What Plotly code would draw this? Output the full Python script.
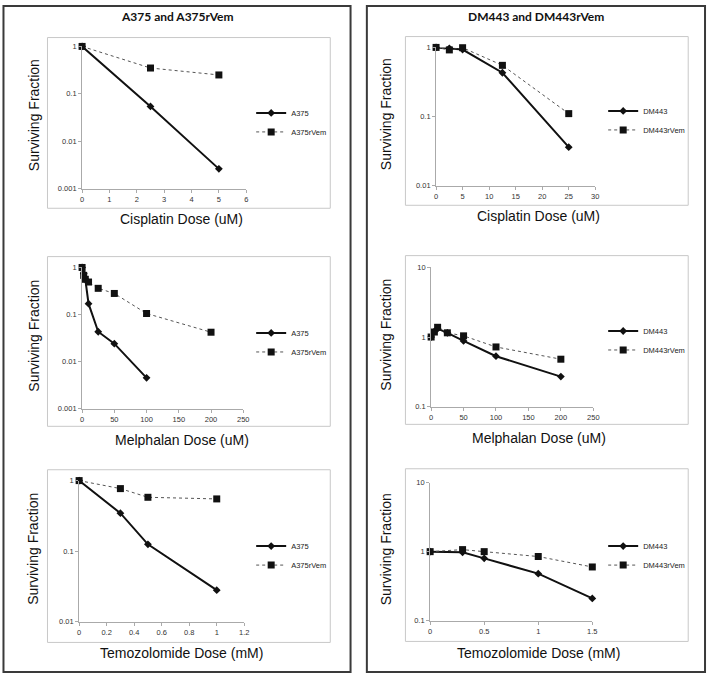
import plotly.graph_objects as go

W, H = 713, 679

# ---- data ----
cis_a375_x = [0, 2.5, 5]
cis_a375_y = [1.0, 0.054, 0.0026]
cis_a375r_x = [0, 2.5, 5]
cis_a375r_y = [1.0, 0.35, 0.25]

mel_a375_x = [0, 2.5, 5, 10, 25, 50, 100]
mel_a375_y = [1.0, 0.74, 0.56, 0.17, 0.043, 0.024, 0.0045]
mel_a375r_x = [0, 2.5, 5, 10, 25, 50, 100, 200]
mel_a375r_y = [1.0, 0.68, 0.56, 0.49, 0.36, 0.28, 0.105, 0.042]

tmz_a375_x = [0, 0.3, 0.5, 1]
tmz_a375_y = [1.0, 0.345, 0.125, 0.028]
tmz_a375r_x = [0, 0.3, 0.5, 1]
tmz_a375r_y = [1.0, 0.77, 0.58, 0.55]

cis_dm_x = [0, 2.5, 5, 12.5, 25]
cis_dm_y = [1.0, 0.97, 0.93, 0.43, 0.036]
cis_dmr_x = [0, 2.5, 5, 12.5, 25]
cis_dmr_y = [1.0, 0.92, 0.99, 0.55, 0.11]

mel_dm_x = [0, 5, 10, 25, 50, 100, 200]
mel_dm_y = [1.0, 1.2, 1.32, 1.15, 0.88, 0.53, 0.27]
mel_dmr_x = [0, 5, 10, 25, 50, 100, 200]
mel_dmr_y = [1.0, 1.18, 1.38, 1.15, 1.04, 0.72, 0.48]

tmz_dm_x = [0, 0.3, 0.5, 1, 1.5]
tmz_dm_y = [1.0, 0.98, 0.8, 0.48, 0.21]
tmz_dmr_x = [0, 0.3, 0.5, 1, 1.5]
tmz_dmr_y = [1.0, 1.07, 1.0, 0.85, 0.6]

panel_titles = ["A375 and A375rVem", "DM443 and DM443rVem"]
x_titles = ["Cisplatin Dose (uM)", "Melphalan Dose (uM)", "Temozolomide Dose (mM)"]
y_title = "Surviving Fraction"


def px(x):
    return x / W


def py(y):
    return 1 - y / H


# subplot definitions: (solid name, x, y, dotted name, x, y, xrange, dtick, ylog range)
subplots = [
    ("A375", cis_a375_x, cis_a375_y, "A375rVem", cis_a375r_x, cis_a375r_y, [0, 6], 1, [-3, 0]),
    ("A375", mel_a375_x, mel_a375_y, "A375rVem", mel_a375r_x, mel_a375r_y, [0, 250], 50, [-3, 0]),
    ("A375", tmz_a375_x, tmz_a375_y, "A375rVem", tmz_a375r_x, tmz_a375r_y, [0, 1.2], 0.2, [-2, 0]),
    ("DM443", cis_dm_x, cis_dm_y, "DM443rVem", cis_dmr_x, cis_dmr_y, [0, 30], 5, [-2, 0]),
    ("DM443", mel_dm_x, mel_dm_y, "DM443rVem", mel_dmr_x, mel_dmr_y, [0, 250], 50, [-1, 1]),
    ("DM443", tmz_dm_x, tmz_dm_y, "DM443rVem", tmz_dmr_x, tmz_dmr_y, [0, 1.5], 0.5, [-1, 1]),
]

# pixel layout of each plot area: (x0, x1, ytop, ybottom)
areas = [
    (81, 247, 43, 187), (81, 244, 267, 410), (78, 245, 483, 626),
    (439, 600, 44, 184), (434, 598, 267, 408), (433, 597, 485, 625),
]
# gray chart-area boxes
boxes = [
    (46, 34, 332, 207), (46, 256, 332, 428), (46, 472, 332, 647),
    (408, 33, 694, 204), (408, 255, 694, 426), (408, 471, 694, 646),
]
legend_y = [120, 343, 559, 118, 341, 559]
xtitle_y = [218, 442, 658, 215, 440, 658]

fig = go.Figure()
tick_font = dict(family="Liberation Sans, Arial", size=7.5, color="#333")
layout = {}

for i, (n1, x1, y1, n2, x2, y2, xr, dt, yr) in enumerate(subplots):
    k = i + 1
    sfx = "" if k == 1 else str(k)
    leg = "legend" if k == 1 else "legend%d" % k
    fig.add_trace(go.Scatter(
        x=x1, y=y1, name=n1, mode="lines+markers",
        line=dict(color="#111", width=2),
        marker=dict(symbol="diamond", size=6, color="#111"),
        xaxis="x" + sfx, yaxis="y" + sfx, legend=leg, cliponaxis=False,
    ))
    fig.add_trace(go.Scatter(
        x=x2, y=y2, name=n2, mode="lines+markers",
        line=dict(color="#555", width=1, dash="dot"),
        marker=dict(symbol="square", size=7, color="#111"),
        xaxis="x" + sfx, yaxis="y" + sfx, legend=leg, cliponaxis=False,
    ))
    a = areas[i]
    tv = [10 ** p for p in range(yr[0], yr[1] + 1)]
    tt = [("%g" % v) for v in tv]
    layout["xaxis" + sfx] = dict(
        domain=[px(a[0]), px(a[1])], range=xr, dtick=dt, anchor="y" + sfx,
        showline=True, linecolor="#aaa", linewidth=1, showgrid=False, zeroline=False,
        ticks="outside", ticklen=3, tickcolor="#aaa", tickfont=tick_font,
    )
    layout["yaxis" + sfx] = dict(
        domain=[py(a[3]), py(a[2])], type="log", range=yr, anchor="x" + sfx,
        tickvals=tv, ticktext=tt,
        showline=True, linecolor="#aaa", linewidth=1, showgrid=False, zeroline=False,
        ticks="outside", ticklen=3, tickcolor="#aaa", tickfont=tick_font,
    )
    lx = 252 if i < 3 else 608
    layout[leg] = dict(
        x=px(lx), y=py(legend_y[i]), xanchor="left", yanchor="middle",
        font=dict(family="Liberation Sans, Arial", size=7.5, color="#222"),
        bgcolor="rgba(0,0,0,0)", itemwidth=30, tracegroupgap=0,
    )

shapes = []
# outer panel borders
shapes.append(dict(type="rect", xref="paper", yref="paper",
                   x0=px(1.5), x1=px(352.5), y0=py(677), y1=py(2),
                   line=dict(color="#3a3a3a", width=2)))
shapes.append(dict(type="rect", xref="paper", yref="paper",
                   x0=px(369), x1=px(711), y0=py(677), y1=py(2),
                   line=dict(color="#3a3a3a", width=2)))
for b in boxes:
    shapes.append(dict(type="rect", xref="paper", yref="paper", layer="below",
                       x0=px(b[0]), x1=px(b[2]), y0=py(b[3]), y1=py(b[1]),
                       line=dict(color="#c8c8c8", width=1)))

annotations = []
for j, t in enumerate(panel_titles):
    annotations.append(dict(text="<b>%s</b>" % t, x=px(177 if j == 0 else 540), y=py(13),
                            xref="paper", yref="paper", showarrow=False,
                            xanchor="center", yanchor="middle",
                            font=dict(family="Lato, Carlito, sans-serif", size=12, color="#111")))
for i in range(6):
    a = areas[i]
    cx = 182 if i < 3 else 543
    annotations.append(dict(text=x_titles[i % 3], x=px(cx), y=py(xtitle_y[i]),
                            xref="paper", yref="paper", showarrow=False,
                            xanchor="center", yanchor="middle",
                            font=dict(family="Liberation Sans, Arial", size=14, color="#111")))
    annotations.append(dict(text=y_title, x=px(32 if i < 3 else 388),
                            y=py((a[2] + a[3]) / 2 - 2), textangle=-90,
                            xref="paper", yref="paper", showarrow=False,
                            xanchor="center", yanchor="middle",
                            font=dict(family="Liberation Sans, Arial", size=14, color="#111")))

fig.update_layout(
    width=W, height=H, margin=dict(l=0, r=0, t=0, b=0),
    paper_bgcolor="white", plot_bgcolor="white",
    shapes=shapes, annotations=annotations, showlegend=True,
    **layout,
)

fig.write_html("out.html", config={"displayModeBar": False},
               post_script="document.body.style.margin='0';")
